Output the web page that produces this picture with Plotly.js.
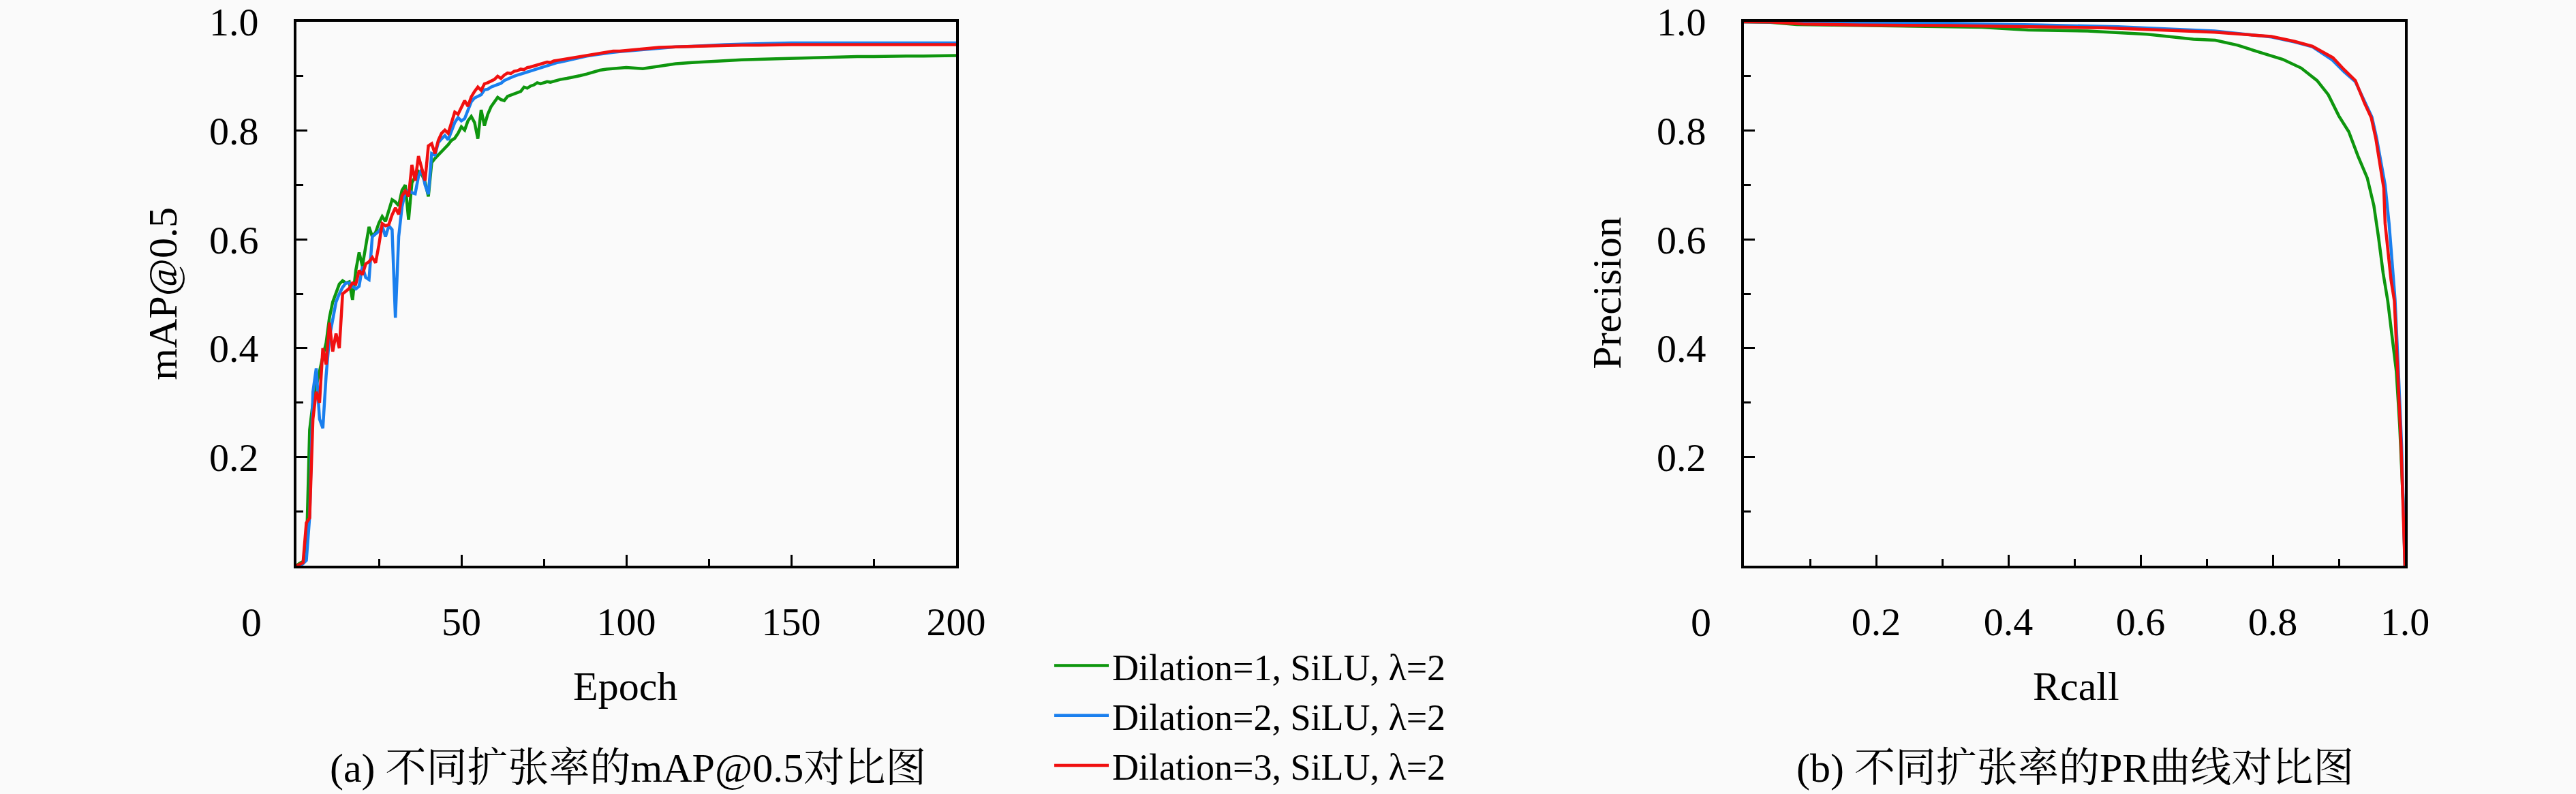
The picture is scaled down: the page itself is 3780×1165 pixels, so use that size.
<!DOCTYPE html>
<html><head><meta charset="utf-8">
<script src="https://cdn.plot.ly/plotly-3.0.1.min.js"></script>
<style>html,body{margin:0;padding:0;background:#fafafa}</style>
</head><body>
<div id="chart" style="width:3780px;height:1165px"></div>
<script>
// ---- data: mAP@0.5 vs epoch ----
const epochs = [0,1,2,3,4,5,6,7,8,9,10,11,12,13,14,15,16,17,18,19,20,21,22,23,24,25,26,27,28,29,30,31,32,33,34,35,36,37,38,39,40,41,42,43,44,45,46,47,48,49,50,51,52,53,54,55,56,57,58,59,60,61,62,63,64,65,66,67,68,69,70,71,72,73,74,75,76,77,78,79,80,82,84,86,88,90,92,94,96,98,100,105,110,115,120,125,130,135,140,145,150,155,160,165,170,175,180,185,190,195,200];
const mapD1 = [0.000,0.005,0.008,0.020,0.250,0.300,0.330,0.360,0.385,0.410,0.456,0.485,0.500,0.518,0.524,0.520,0.522,0.489,0.543,0.576,0.551,0.590,0.623,0.605,0.613,0.630,0.642,0.633,0.655,0.673,0.669,0.662,0.690,0.700,0.636,0.704,0.715,0.725,0.720,0.705,0.679,0.741,0.749,0.755,0.762,0.768,0.774,0.782,0.786,0.795,0.807,0.801,0.818,0.826,0.815,0.785,0.838,0.809,0.830,0.844,0.852,0.861,0.857,0.855,0.863,0.865,0.867,0.869,0.872,0.880,0.878,0.882,0.884,0.888,0.886,0.888,0.890,0.889,0.891,0.893,0.894,0.896,0.898,0.901,0.904,0.908,0.911,0.913,0.914,0.915,0.916,0.914,0.919,0.923,0.925,0.927,0.929,0.930,0.931,0.932,0.933,0.934,0.935,0.935,0.936,0.936,0.937,0.937,0.937,0.938,0.938];
const mapD2 = [0.000,0.000,0.004,0.010,0.090,0.320,0.363,0.270,0.253,0.350,0.420,0.455,0.485,0.500,0.512,0.520,0.520,0.514,0.509,0.514,0.550,0.530,0.526,0.605,0.610,0.615,0.625,0.605,0.625,0.618,0.456,0.605,0.660,0.687,0.690,0.686,0.684,0.716,0.729,0.700,0.683,0.758,0.755,0.778,0.785,0.791,0.783,0.800,0.815,0.824,0.818,0.822,0.836,0.853,0.860,0.863,0.866,0.875,0.876,0.880,0.882,0.884,0.887,0.892,0.895,0.898,0.900,0.902,0.904,0.906,0.908,0.910,0.912,0.914,0.916,0.918,0.920,0.921,0.923,0.925,0.926,0.929,0.932,0.935,0.937,0.939,0.941,0.942,0.944,0.945,0.946,0.949,0.952,0.954,0.955,0.957,0.958,0.959,0.960,0.960,0.961,0.961,0.961,0.961,0.961,0.961,0.961,0.961,0.961,0.961,0.961];
const mapD3 = [0.000,0.003,0.006,0.079,0.088,0.270,0.320,0.300,0.400,0.370,0.447,0.394,0.427,0.400,0.500,0.505,0.510,0.520,0.518,0.543,0.535,0.555,0.559,0.567,0.557,0.590,0.629,0.625,0.627,0.645,0.658,0.646,0.680,0.689,0.679,0.737,0.708,0.753,0.730,0.708,0.772,0.776,0.758,0.782,0.795,0.801,0.795,0.815,0.834,0.830,0.843,0.855,0.845,0.862,0.872,0.880,0.874,0.886,0.888,0.891,0.894,0.900,0.896,0.902,0.906,0.905,0.909,0.910,0.913,0.912,0.916,0.917,0.919,0.921,0.922,0.924,0.926,0.925,0.928,0.929,0.930,0.932,0.934,0.936,0.939,0.941,0.943,0.944,0.946,0.946,0.947,0.950,0.953,0.954,0.955,0.956,0.957,0.957,0.957,0.958,0.958,0.958,0.958,0.958,0.958,0.958,0.958,0.958,0.958,0.958,0.958];

// ---- data: PR curves ----
const recallD1 = [0,0.04,0.08,0.15,0.25,0.36,0.43,0.52,0.61,0.645,0.68,0.713,0.747,0.78,0.80,0.815,0.843,0.867,0.884,0.90,0.915,0.929,0.943,0.953,0.96,0.967,0.974,0.98,0.987,0.992,0.998,1.0];
const precD1   = [1.0,0.999,0.995,0.994,0.992,0.990,0.985,0.983,0.977,0.973,0.968,0.966,0.957,0.944,0.937,0.931,0.915,0.892,0.866,0.827,0.798,0.753,0.713,0.662,0.604,0.538,0.487,0.422,0.357,0.259,0.098,0.0];
const recallD2 = [0,0.13,0.313,0.451,0.566,0.712,0.798,0.833,0.86,0.89,0.908,0.925,0.94,0.95,0.957,0.964,0.97,0.976,0.98,0.985,0.99,0.995,1.0];
const precD2   = [1.0,0.999,0.997,0.994,0.991,0.983,0.972,0.963,0.954,0.930,0.908,0.890,0.850,0.825,0.787,0.740,0.700,0.629,0.560,0.490,0.360,0.220,0.0];
const recallD3 = [0,0.04,0.09,0.175,0.313,0.45,0.543,0.61,0.712,0.798,0.833,0.86,0.891,0.908,0.925,0.939,0.949,0.956,0.963,0.968,0.97,0.979,0.984,0.989,0.994,1.0];
const precD3   = [1.0,0.9995,0.996,0.994,0.993,0.991,0.989,0.986,0.981,0.973,0.964,0.955,0.934,0.912,0.892,0.850,0.824,0.785,0.733,0.694,0.629,0.525,0.487,0.357,0.227,0.0];

const seriesNames = ['Dilation=1, SiLU, λ=2','Dilation=2, SiLU, λ=2','Dilation=3, SiLU, λ=2'];
const yTicks = [0.2,0.4,0.6,0.8,1.0];
const yMinor = [0.1,0.3,0.5,0.7,0.9];
const xTicksA = [50,100,150,200];
const xMinorA = [25,75,125,175];
const xTicksB = [0.2,0.4,0.6,0.8,1.0];
const xMinorB = [0.1,0.3,0.5,0.7,0.9];

const colors = ['#0e960e','#1a7fee','#f01010'];
const W = 3780, H = 1165;
const FONT = "'Liberation Serif', 'Noto Serif CJK SC', 'Noto Sans CJK SC', serif";

const mapSeries = [mapD1, mapD2, mapD3];
const prSeries = [[recallD1, precD1],[recallD2, precD2],[recallD3, precD3]];
const traces = [];
mapSeries.forEach((s,i)=>traces.push({x:epochs,y:s,type:'scatter',mode:'lines',name:seriesNames[i],
  line:{color:colors[i],width:4.5},xaxis:'x',yaxis:'y',showlegend:true,legendgroup:'g'+i}));
prSeries.forEach((s,i)=>traces.push({x:s[0],y:s[1],type:'scatter',mode:'lines',name:seriesNames[i],
  line:{color:colors[i],width:4.5},xaxis:'x2',yaxis:'y2',showlegend:false,legendgroup:'g'+i}));

const px = v => v / W, py = v => (H - v) / H;
function axisBase(extra){
  return Object.assign({showline:true,linewidth:4,linecolor:'#000',mirror:true,showgrid:false,zeroline:false,
    ticks:'inside',ticklen:16,tickwidth:3,tickcolor:'#000',tickmode:'array',ticklabeloverflow:'allow',
    tickfont:{family:FONT,size:58,color:'#000'}},extra);
}
const minorY = {tickmode:'array',tickvals:yMinor,ticks:'inside',ticklen:10,tickwidth:3,tickcolor:'#000'};
const yDom = [py(831), py(32)];
const layout = {
  width:W,height:H,margin:{l:0,r:0,t:0,b:0,pad:0},
  paper_bgcolor:'#fafafa',plot_bgcolor:'#fafafa',
  font:{family:FONT,size:60,color:'#000'},
  xaxis:axisBase({domain:[px(435),px(1403)],range:[0,200],anchor:'y',tickvals:xTicksA,ticklabelstandoff:28,
    minor:{tickmode:'array',tickvals:xMinorA,ticks:'inside',ticklen:10,tickwidth:3,tickcolor:'#000'}}),
  yaxis:axisBase({domain:yDom,range:[0,1],anchor:'x',tickvals:yTicks,tickformat:'.1f',ticklabelstandoff:40,minor:minorY}),
  xaxis2:axisBase({domain:[px(2559),px(3529)],range:[0,1],anchor:'y2',tickvals:xTicksB,tickformat:'.1f',ticklabelstandoff:28,
    minor:{tickmode:'array',tickvals:xMinorB,ticks:'inside',ticklen:10,tickwidth:3,tickcolor:'#000'}}),
  yaxis2:axisBase({domain:yDom,range:[0,1],anchor:'x2',tickvals:yTicks,tickformat:'.1f',ticklabelstandoff:40,minor:minorY}),
  legend:{x:px(1542),y:py(936),xanchor:'left',yanchor:'top',bgcolor:'rgba(0,0,0,0)',
    font:{family:FONT,size:54,color:'#000'},itemwidth:80,tracegroupgap:0},
  annotations:[
    {text:'0',x:px(369),y:py(914)},
    {text:'0',x:px(2496),y:py(914)},
    {text:'Epoch',x:px(917),y:py(1008)},
    {text:'Rcall',x:px(3046),y:py(1008)},
    {text:'mAP@0.5',x:px(239),y:py(431),textangle:-90},
    {text:'Precision',x:px(2358),y:py(431),textangle:-90},
    {text:'(a) 不同扩张率的mAP@0.5对比图',x:px(921),y:py(1128)},
    {text:'(b) 不同扩张率的PR曲线对比图',x:px(3045),y:py(1128)}
  ].map(a=>Object.assign({xref:'paper',yref:'paper',showarrow:false,xanchor:'center',yanchor:'middle',
    font:{family:FONT,size:60,color:'#000'}},a))
};
Plotly.newPlot('chart',traces,layout,{displayModeBar:false,staticPlot:true});
</script>
</body></html>
